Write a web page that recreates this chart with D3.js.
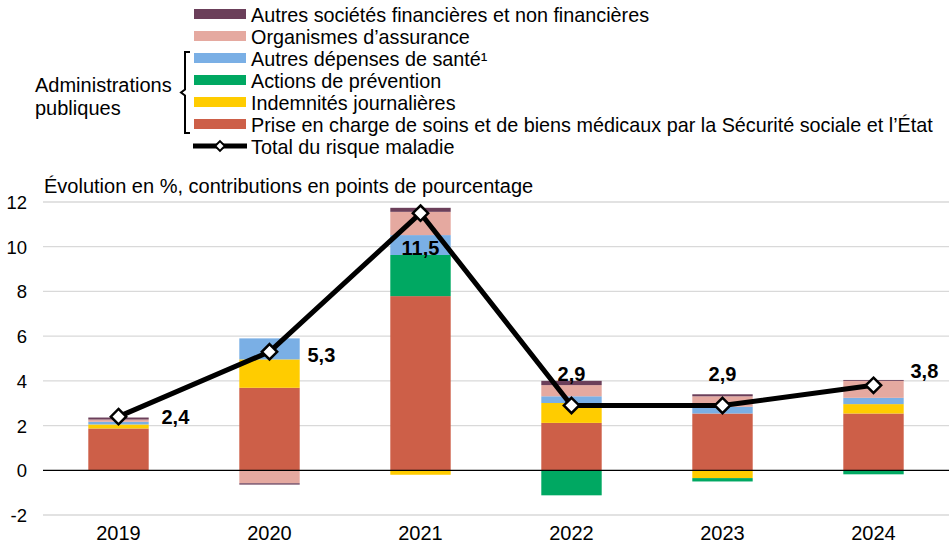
<!DOCTYPE html>
<html lang="fr">
<head>
<meta charset="utf-8">
<title>risque maladie</title>
<script src="https://cdn.jsdelivr.net/npm/d3@7"></script>
<style>
  body { margin: 0; background: #fff; }
  text { font-family: "Liberation Sans", Arial, sans-serif; fill: #000; }
</style>
</head>
<body>
<svg width="949" height="551"></svg>
<script>
// données
const annees = ["2019", "2020", "2021", "2022", "2023", "2024"];
const soins      = [1.87, 3.69, 7.79, 2.12, 2.54, 2.54];
const indemnites = [0.18, 1.27, -0.20, 0.89, -0.35, 0.42];
const prevention = [0.00, 0.00, 1.84, -1.12, -0.15, -0.18];
const autresDep  = [0.12, 0.94, 0.89, 0.30, 0.30, 0.28];
const assurance  = [0.10, -0.58, 1.04, 0.50, 0.47, 0.76];
const autresSoc  = [0.09, -0.06, 0.18, 0.19, 0.09, 0.04];
const total      = [2.4, 5.3, 11.5, 2.9, 2.9, 3.8];
const yTicks = [-2, 0, 2, 4, 6, 8, 10, 12];

const series = [
  { nom: "Prise en charge de soins et de biens médicaux par la Sécurité sociale et l’État", val: soins, couleur: "#cd5f48" },
  { nom: "Indemnités journalières", val: indemnites, couleur: "#ffcc00" },
  { nom: "Actions de prévention", val: prevention, couleur: "#00a862" },
  { nom: "Autres dépenses de santé¹", val: autresDep, couleur: "#7aafe5" },
  { nom: "Organismes d’assurance", val: assurance, couleur: "#e5a9a0" },
  { nom: "Autres sociétés financières et non financières", val: autresSoc, couleur: "#6b3f5a" }
];

const svg = d3.select("svg");

const x = d3.scaleBand().domain(annees).range([43, 949]).paddingInner(0.6).paddingOuter(0.3);
const y = d3.scaleLinear().domain([-2, 12]).range([515, 202]);

// grille
svg.append("g")
  .selectAll("line")
  .data(yTicks.filter(d => d !== 0))
  .enter().append("line")
    .attr("x1", 43).attr("x2", 949)
    .attr("y1", d => y(d)).attr("y2", d => y(d))
    .attr("stroke", "#d9d9d9").attr("stroke-width", 1.3);

// axe y
const axeY = svg.append("g")
  .attr("transform", "translate(27,0)")
  .call(d3.axisLeft(y).tickValues(yTicks).tickSize(0).tickPadding(0).tickFormat(d => d));
axeY.select(".domain").remove();
axeY.selectAll("text").attr("font-size", 18.5).attr("text-anchor", "end").attr("dy", "0.35em");

// axe x
const axeX = svg.append("g")
  .attr("transform", "translate(0," + (y(-2)) + ")")
  .call(d3.axisBottom(x).tickSize(0).tickPadding(11));
axeX.select(".domain").remove();
axeX.selectAll("text").attr("font-size", 20);

// empilement positif / négatif
const tableau = annees.map((a, i) => {
  const o = { annee: a };
  series.forEach(s => { o[s.nom] = s.val[i]; });
  return o;
});
const pile = d3.stack()
  .keys(series.map(s => s.nom))
  .offset(d3.stackOffsetDiverging)(tableau);

svg.append("g")
  .selectAll("g")
  .data(pile)
  .enter().append("g")
    .attr("fill", (d, i) => series[i].couleur)
  .selectAll("rect")
  .data(d => d)
  .enter().append("rect")
    .attr("x", d => x(d.data.annee))
    .attr("width", x.bandwidth())
    .attr("y", d => y(Math.max(d[0], d[1])))
    .attr("height", d => Math.abs(y(d[0]) - y(d[1])));

// ligne zéro
svg.append("line")
  .attr("x1", 43).attr("x2", 949)
  .attr("y1", y(0)).attr("y2", y(0))
  .attr("stroke", "#000").attr("stroke-width", 1.3);

// courbe du total
const cx = d => x(d) + x.bandwidth() / 2;
svg.append("path")
  .datum(total)
  .attr("fill", "none")
  .attr("stroke", "#000")
  .attr("stroke-width", 5)
  .attr("stroke-linejoin", "round")
  .attr("d", d3.line().x((d, i) => cx(annees[i])).y(d => y(d)));

const losange = d3.symbol().type(d3.symbolDiamond2).size(150);
svg.append("g")
  .selectAll("path")
  .data(total)
  .enter().append("path")
    .attr("d", losange)
    .attr("transform", (d, i) => "translate(" + cx(annees[i]) + "," + y(d) + ")")
    .attr("fill", "#fff").attr("stroke", "#000").attr("stroke-width", 2.5);

// étiquettes
const placement = [[43, 0, "start"], [38, 3, "start"], [0, 35, "middle"], [0, -31, "middle"], [0, -31, "middle"], [37, -14, "start"]];
svg.append("g")
  .selectAll("text")
  .data(total)
  .enter().append("text")
    .attr("x", (d, i) => cx(annees[i]) + placement[i][0])
    .attr("y", (d, i) => y(d) + placement[i][1])
    .attr("dy", "0.35em")
    .attr("text-anchor", (d, i) => placement[i][2])
    .attr("font-size", 20).attr("font-weight", "bold")
    .text(d => d3.format(".1f")(d).replace(".", ","));

// sous-titre
svg.append("text")
  .attr("x", 44).attr("y", 186).attr("dy", "0.35em")
  .attr("font-size", 20)
  .text("Évolution en %, contributions en points de pourcentage");

// légende
const legende = svg.append("g");
const ordreLeg = series.slice().reverse();
ordreLeg.forEach((s, i) => {
  const ly = 14 + i * 22;
  legende.append("rect").attr("x", 194).attr("y", ly - 5).attr("width", 52).attr("height", 10).attr("fill", s.couleur);
  legende.append("text").attr("x", 251).attr("y", ly + 1).attr("dy", "0.35em").attr("font-size", 19.8).text(s.nom);
});
const lyT = 14 + 6 * 22;
legende.append("line").attr("x1", 193).attr("x2", 247).attr("y1", lyT).attr("y2", lyT).attr("stroke", "#000").attr("stroke-width", 5);
legende.append("path").attr("d", d3.symbol().type(d3.symbolDiamond2).size(60))
  .attr("transform", "translate(220," + lyT + ")")
  .attr("fill", "#fff").attr("stroke", "#000").attr("stroke-width", 2);
legende.append("text").attr("x", 251).attr("y", lyT + 1).attr("dy", "0.35em").attr("font-size", 19.8).text("Total du risque maladie");

// accolade administrations publiques
const yh = 14 + 2 * 22 - 6, yb = 14 + 5 * 22 + 9, ym = (yh + yb) / 2;
legende.append("path")
  .attr("d", "M190," + yh + " H185 V" + (ym - 3) + " L181," + ym + " L185," + (ym + 3) + " V" + yb + " H190")
  .attr("fill", "none").attr("stroke", "#000").attr("stroke-width", 2);
legende.append("text").attr("x", 35).attr("y", 85).attr("dy", "0.35em").attr("font-size", 20).text("Administrations");
legende.append("text").attr("x", 35).attr("y", 108).attr("dy", "0.35em").attr("font-size", 20).text("publiques");
</script>
</body>
</html>
